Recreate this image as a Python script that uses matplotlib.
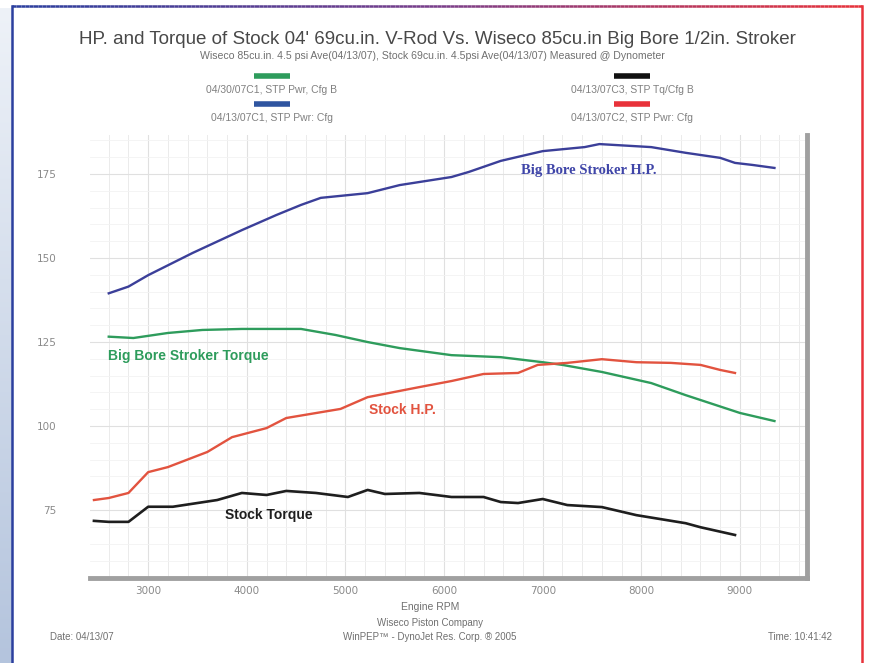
import numpy as np
import matplotlib
matplotlib.use("Agg")
import matplotlib.pyplot as plt
from matplotlib.collections import LineCollection
from matplotlib.ticker import MultipleLocator

# ---------------- data ----------------
bb_hp_rpm = [2600, 2800, 3000, 3450, 3950, 4300, 4550, 4750, 5225, 5550, 6075, 6250,
             6575, 6750, 7000, 7425, 7575, 8100, 8450, 8800, 8950, 9125, 9350]
bb_hp = [139.5, 141.5, 144.9, 151.5, 158.3, 162.8, 165.8, 167.9, 169.3, 171.7, 174.1, 175.6,
         178.9, 180.1, 181.8, 183.0, 183.9, 183.0, 181.3, 179.8, 178.3, 177.7, 176.8]

bb_tq_rpm = [2600, 2850, 3200, 3550, 3950, 4550, 4900, 5225, 5550, 6075, 6575, 7000,
             7200, 7600, 8100, 8450, 9000, 9350]
bb_tq = [126.6, 126.2, 127.7, 128.6, 128.9, 128.9, 127.1, 125.0, 123.2, 121.1, 120.5, 119.0,
         118.2, 116.1, 112.8, 109.2, 103.9, 101.5]

st_hp_rpm = [2450, 2600, 2800, 3000, 3200, 3600, 3850, 4200, 4400, 4950, 5225, 5750,
             6075, 6400, 6750, 6950, 7250, 7600, 7950, 8300, 8600, 8800, 8950]
st_hp = [78.0, 78.6, 80.1, 86.3, 87.8, 92.3, 96.7, 99.4, 102.4, 105.1, 108.6, 111.6,
         113.4, 115.5, 115.8, 118.2, 118.8, 119.9, 119.0, 118.8, 118.2, 116.7, 115.8]

st_tq_rpm = [2450, 2600, 2800, 3000, 3250, 3700, 3950, 4200, 4400, 4700, 5025, 5225,
             5400, 5750, 6075, 6400, 6575, 6750, 7000, 7250, 7600, 7950, 8450, 8600, 8950]
st_tq = [71.8, 71.5, 71.5, 76.0, 76.0, 78.0, 80.1, 79.5, 80.7, 80.1, 78.9, 81.0,
         79.8, 80.1, 78.9, 78.9, 77.4, 77.1, 78.3, 76.5, 75.9, 73.5, 71.1, 69.9, 67.6]

x_ticks = [3000, 4000, 5000, 6000, 7000, 8000, 9000]
y_ticks = [75, 100, 125, 150, 175]

legend_labels = ["04/30/07C1, STP Pwr, Cfg B", "04/13/07C1, STP Pwr: Cfg",
                 "04/13/07C3, STP Tq/Cfg B", "04/13/07C2, STP Pwr: Cfg"]

# ---------------- figure ----------------
W, H = 869, 663
fig = plt.figure(figsize=(W / 100, H / 100), dpi=100)
fig.patch.set_facecolor("white")

def px(x, y):
    return x / W, 1 - y / H

# left light-blue strip with gradient
grad = np.linspace(0, 1, 256).reshape(-1, 1)
ax_bg = fig.add_axes([0, 0, 12 / W, 1 - 8 / H])
ax_bg.imshow(grad, aspect="auto", cmap=matplotlib.colors.LinearSegmentedColormap.from_list(
    "g", ["#eef2f8", "#b4c4dd"]), extent=[0, 1, 0, 1], origin="upper")
ax_bg.axis("off")

# border lines (blue left, red right, gradient top)
n = 200
xs = np.linspace(12 / W, 862 / W, n + 1)
ty = 1 - 6 / H
segs = [[(xs[i], ty), (xs[i + 1], ty)] for i in range(n)]
cmap_b = matplotlib.colors.LinearSegmentedColormap.from_list("br", ["#2b3f9e", "#7a3f8a", "#e8323a"])
lc = LineCollection(segs, colors=[cmap_b(i / n) for i in range(n)], linewidths=1.8,
                    transform=fig.transFigure)
fig.add_artist(lc)
fig.add_artist(plt.Line2D([12 / W, 12 / W], [0, ty], color="#2b3f9e", lw=1.8, transform=fig.transFigure))
fig.add_artist(plt.Line2D([862 / W, 862 / W], [0, ty], color="#e8323a", lw=1.8, transform=fig.transFigure))

# ---------------- main axes ----------------
ax_l, ax_r, ax_t, ax_b = 90, 807, 135, 578
ax = fig.add_axes([ax_l / W, 1 - ax_b / H, (ax_r - ax_l) / W, (ax_b - ax_t) / H])
ax.set_facecolor("white")
ax.set_xlim(2410, 9680)
ax.set_ylim(54.8, 186.6)

ax.xaxis.set_minor_locator(MultipleLocator(200))
ax.yaxis.set_minor_locator(MultipleLocator(5))
ax.set_xticks(x_ticks)
ax.set_yticks(y_ticks)
ax.grid(which="major", color="#e0e0e0", lw=0.8)
ax.grid(which="minor", axis="x", color="#ebebeb", lw=0.7)
ax.grid(which="minor", axis="y", color="#f3f3f3", lw=0.6)
ax.set_axisbelow(True)
ax.tick_params(which="both", length=0, colors="#8a8a8a", labelsize=7.5)
ax.tick_params(axis="x", pad=6)
ax.tick_params(axis="y", pad=24)
for s in ["top", "left"]:
    ax.spines[s].set_visible(False)
for s in ["bottom", "right"]:
    ax.spines[s].set_color("#a0a0a0")
    ax.spines[s].set_linewidth(3.5)

ax.plot(bb_hp_rpm, bb_hp, color="#3b3f99", lw=1.7)
ax.plot(bb_tq_rpm, bb_tq, color="#2e9c5c", lw=1.7)
ax.plot(st_hp_rpm, st_hp, color="#e2533f", lw=1.7)
ax.plot(st_tq_rpm, st_tq, color="#1e1e1e", lw=1.9)

ax.text(6780, 175.9, "Big Bore Stroker H.P.", color="#3f45a8", fontsize=10.5, fontweight="bold",
        family="Liberation Serif", ha="left", va="center")
ax.text(2590, 120.8, "Big Bore Stroker Torque", color="#2e9c5c", fontsize=10, fontweight="bold",
        family="Liberation Sans", ha="left", va="center")
ax.text(5240, 104.8, "Stock H.P.", color="#e2533f", fontsize=10, fontweight="bold",
        family="Liberation Sans", ha="left", va="center")
ax.text(3780, 73.5, "Stock Torque", color="#1e1e1e", fontsize=10, fontweight="bold",
        family="Liberation Sans", ha="left", va="center")

# ---------------- header texts ----------------
fig.text(*px(437, 40), "HP. and Torque of Stock 04' 69cu.in. V-Rod Vs. Wiseco 85cu.in Big Bore 1/2in. Stroker",
         ha="center", va="center", fontsize=13.5, color="#484848", family="Liberation Sans")
fig.text(*px(432, 56), "Wiseco 85cu.in. 4.5 psi Ave(04/13/07), Stock 69cu.in. 4.5psi Ave(04/13/07) Measured @ Dynometer",
         ha="center", va="center", fontsize=7.6, color="#707070", family="Liberation Sans")

leg_colors = ["#2e9c5c", "#2f55a0", "#111111", "#e8323a"]
leg_pos = [(272, 76), (272, 104), (632, 76), (632, 104)]
for (cx, cy), c, lab in zip(leg_pos, leg_colors, legend_labels):
    fig.add_artist(plt.Line2D([(cx - 18) / W, (cx + 18) / W], [1 - cy / H, 1 - cy / H],
                              color=c, lw=4, solid_capstyle="butt", transform=fig.transFigure))
    fig.text(*px(cx, cy + 14), lab, ha="center", va="center", fontsize=7.5, color="#808080",
             family="Liberation Sans")

# ---------------- footer texts ----------------
fig.text(*px(430, 607), "Engine RPM", ha="center", va="center", fontsize=7.5, color="#707070",
         family="Liberation Sans")
fig.text(*px(430, 623), "Wiseco Piston Company", ha="center", va="center", fontsize=7, color="#707070",
         family="Liberation Sans")
fig.text(*px(430, 637), "WinPEP\u2122 - DynoJet Res. Corp. \u00ae 2005", ha="center", va="center",
         fontsize=7, color="#707070", family="Liberation Sans")
fig.text(*px(50, 637), "Date: 04/13/07", ha="left", va="center", fontsize=7, color="#707070",
         family="Liberation Sans")
fig.text(*px(832, 637), "Time: 10:41:42", ha="right", va="center", fontsize=7, color="#707070",
         family="Liberation Sans")

fig.savefig("out.png", dpi=100, facecolor=fig.get_facecolor())
